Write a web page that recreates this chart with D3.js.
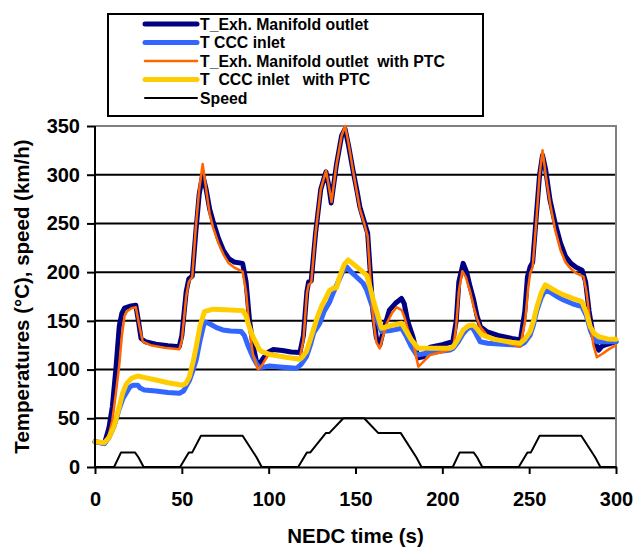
<!DOCTYPE html>
<html>
<head>
<meta charset="utf-8">
<script src="https://cdn.jsdelivr.net/npm/d3@7/dist/d3.min.js"></script>
<style>
  html, body { margin: 0; padding: 0; background: #fff; }
  svg { display: block; }
  text { font-family: "Liberation Sans", Arial, sans-serif; font-weight: bold; fill: #000; }
</style>
</head>
<body>
<svg id="chart" width="636" height="548"></svg>
<script>
// ---- Data: NEDC time (s) and temperatures (°C) / speed (km/h) ----
const exhTime = [0,3,5.5,8,10,12,14,15.5,17,20,23.5,25,26.5,29,35,42,48.5,50,52.5,54,56,58,60,62,64,66,68,71,74,77,80,85,87,89,91,93,95,97,100,102.5,108,113,118,120,122,123,124.5,127,130,133,134.5,136,139,142,144,146,148.5,151,152.5,155,157,158.5,160,162,164,166,169.5,173,176.5,178,180,183,186,189,193,200,206,208,209.5,212,214,216,218,220,222,225.5,232,240,245,247.5,249,250.6,252,254,256,257.7,259.5,262,265,268,271,274,277,280.5,282.5,284.5,287,290,292,295,300];
const exhTemp = [26,25,24.5,40,62,100,145,158,163,165,166,150,132,128.5,126,124.5,123.5,135,180,193,196,240,280,300,285,265,252,235,222,214,210.5,209,190,150,125,108,106.5,112,118,120.5,119.5,118,117.5,135,180,190,191,240,285,303,290,271,310,340,347,330,305,282,267,252,240,200,160,133,125,140,161,168,173,168,150,134,112,113,123,125.5,128.6,150,190,209,200,185,172,155,144,139,135,132,130.4,160,195,205.6,210,255,300,320,305,274,250,230,216,209,205,202,190,160,133,120,124,126,128.6];

const cccTime = [0,3,5.4,8,11,14,16,17.9,20,22,24.6,26,28.4,35,42,48.6,51,54.4,56,58.3,60.5,63,66,70,73.6,78,84.2,86,88,90.9,93,94.8,97,100.6,108,116,118.5,121.7,124,126,129.4,132,135.2,137,140,142.5,144.8,147,150,154.4,156.4,159,162.2,165,170,176.6,179,182,185.2,191,198,204.4,206.3,209,212,214.5,217,219,221.8,226,235,244.8,247.5,250.6,252.5,254.5,257,259.3,263,266,269.8,275,280.4,283,285.2,287,289,295,300];
const cccTemp = [26,25,24,30,42,60,70,75.7,82,84,84,81,79,78,76.5,75.7,78,89,97,110,130,149,147,143,140.7,139.5,139,135,125,113,106,102,102.5,103.7,102.5,101.3,105,113,125,138,147.5,160,169.7,178,190,200,205.6,201,196,188.6,181.7,168,151,139,140,142.4,135,124,115,116.7,118.5,120,121.8,128,137,142,144,138,128.6,127,126,125,128,135.5,146,161,174,181.7,178.5,175,171.5,167.5,164.6,155,140.7,133,128.6,128.5,128.6];

const exhPtcTime = [0,3,5.5,8,10,12,14,15.5,17,18.5,21,23.5,25.5,27.5,32,40,48.5,50,52.5,54,56,58,60,62,64,66,68,71,74,77,80,85,87,89,91,93.8,96,98,100.6,105,112,117.9,120,122,123,124.5,127,130,133,134.5,136.2,139,142,144,146,148.5,151,152.5,155,157,158.5,160,162,164,166,168,171,173.7,176.6,178,180,183.3,186.2,189,193,200,206.3,208,209.5,211.5,213.5,216,218,220,221.8,225.6,232,240,244.8,247.7,249.5,250.6,252,254,256,257.7,259.5,262.2,265,268,271,273.7,277,281.3,283,285,287,289,292,296,300];
const exhPtcTemp = [26,25,24,33,48,75,105,135,155,160,163,164,145,128.6,125,122.5,120.8,130,175,190,195,245,285,311,285,260,246,230,218,209,205,200.5,180,140,115,100.3,104,110,116.7,115,113,111.6,130,178,187,189,240,285,304,290,272,310,340,350,332,305,280,265,250,237,195,155,128,121.8,135,147.5,158,164,161,155,142,127,103,108,115,118,121.8,145,180,201,195,180,164.6,152,144,135.5,130,126,123.5,150,185,199,205,250,300,325,300,269,243,222.8,210,204,199,195.4,180,150,125,112.6,116,121,125];

const cccPtcTime = [0,3,5.4,8,11,14,15.9,18,21,24.6,28,35.2,42,50.5,52.5,54.4,56.5,58.3,60.5,63,67.9,75,85.2,87,89,90.9,94.8,96.7,100.6,110,117.9,119.5,121.7,124,127.5,130.5,133.3,135,137.1,139,141,143.5,145.8,149,153,156.4,158.3,160,162.2,165,170,176.6,179,182,186.2,195,204.4,206.3,209,212,215,217.9,220,222.7,230,240,244.8,247.5,250.6,252.5,254.5,257,259.3,263,266,269.8,275,280.4,283,285.2,287.5,290,295,300];
const cccPtcTemp = [26,25.5,25,30,42,62,75.7,85,91,93.4,92,89.3,86.5,84,86,92.7,108,123.5,145,159.4,162,161.5,160.5,155,143,133.8,120,118,115.5,112.5,110.6,113,118.4,131,151,165,174.8,181,183.5,184,196,208,212.5,208,202,197,185,173,159.4,142.4,145,147.5,140,131,121.8,121.8,121.8,123.5,131,140.7,145,145.8,142,135.5,131,128,127,131,139,150,164.6,179,186.9,183,180,176.6,173,169.7,158,144,137,133.8,131.5,131];

const speedTime = [0,11,15,23,25,28,49,54,56,61,85,93,96,117,122,124,133,135,143,155,163,176,185,188,195,206,210,218,220,223,244,249,251,256,280,288,291,300];
const speedKmh  = [0,0,15,15,10,0,0,15,15,32,32,10,0,0,15,15,35,35,50,50,35,35,10,0,0,0,15,15,10,0,0,15,15,32,32,10,0,0];

const seriesNames = [
  "T_Exh. Manifold outlet",
  "T CCC inlet",
  "T_Exh. Manifold outlet  with PTC",
  "T  CCC inlet   with PTC",
  "Speed"
];
const seriesColors = ["#000080", "#3366FF", "#FF6600", "#FFCC00", "#000000"];
const seriesWidths = [5, 5, 2.5, 5, 2];

const xTicks = [0, 50, 100, 150, 200, 250, 300];
const yTicks = [0, 50, 100, 150, 200, 250, 300, 350];

const xTitle = "NEDC time (s)";
const yTitle = "Temperatures (°C), speed (km/h)";

// ---- Layout ----
const plot = { left: 95, right: 616, top: 126, bottom: 467 };
const svg = d3.select("#chart");

const x = d3.scaleLinear().domain([0, 300]).range([plot.left, plot.right]);
const y = d3.scaleLinear().domain([0, 350]).range([plot.bottom, plot.top]);

// Horizontal gridlines
svg.append("g")
  .selectAll("line")
  .data(yTicks.filter(v => v > 0 && v < 350))
  .join("line")
  .attr("x1", plot.left).attr("x2", plot.right)
  .attr("y1", d => y(d)).attr("y2", d => y(d))
  .attr("stroke", "#000").attr("stroke-width", 2);

// Plot frame (top and right in gray)
svg.append("path")
  .attr("d", `M${plot.left},${y(350)}H${plot.right}V${plot.bottom}`)
  .attr("fill", "none").attr("stroke", "#808080").attr("stroke-width", 2);

// Series
const series = [
  [exhTime, exhTemp],
  [cccTime, cccTemp],
  [exhPtcTime, exhPtcTemp],
  [cccPtcTime, cccPtcTemp],
  [speedTime, speedKmh]
];
const line = d3.line().x(d => x(d[0])).y(d => y(d[1]));
series.forEach(([ts, vs], i) => {
  const pts = ts.map((t, k) => [t, vs[k]]);
  svg.append("path")
    .datum(pts)
    .attr("d", line)
    .attr("fill", "none")
    .attr("stroke", seriesColors[i])
    .attr("stroke-width", seriesWidths[i])
    .attr("stroke-linejoin", "round")
    .attr("stroke-linecap", "round");
});

// Axes
const yAxis = svg.append("g")
  .attr("transform", `translate(${plot.left},0)`)
  .call(d3.axisLeft(y).tickValues(yTicks).tickSize(8).tickSizeOuter(0).tickPadding(7));
const xAxis = svg.append("g")
  .attr("transform", `translate(0,${plot.bottom})`)
  .call(d3.axisBottom(x).tickValues(xTicks).tickSize(7).tickSizeOuter(0).tickPadding(18));
[xAxis, yAxis].forEach(g => {
  g.select(".domain").attr("stroke", "#000").attr("stroke-width", 2);
  g.selectAll(".tick line").attr("stroke", "#000").attr("stroke-width", 2);
  g.selectAll(".tick text").attr("font-size", 20).attr("font-family", null).attr("fill", "#000");
});
yAxis.select(".domain").attr("d", `M0,${y(0)}V${y(350)}`);

// Axis titles
svg.append("text")
  .attr("x", (plot.left + plot.right) / 2).attr("y", 543)
  .attr("text-anchor", "middle").attr("font-size", 20.5)
  .text(xTitle);
svg.append("text")
  .attr("transform", `translate(29,${(plot.top + plot.bottom) / 2}) rotate(-90)`)
  .attr("text-anchor", "middle").attr("font-size", 20.5)
  .text(yTitle);

// Legend
const legend = svg.append("g");
legend.append("rect")
  .attr("x", 108).attr("y", 14).attr("width", 375).attr("height", 102)
  .attr("fill", "#fff").attr("stroke", "#000").attr("stroke-width", 2);
const rowY = [24, 42.5, 61, 79.5, 98];
seriesNames.forEach((name, i) => {
  legend.append("line")
    .attr("x1", 145).attr("x2", 197)
    .attr("y1", rowY[i]).attr("y2", rowY[i])
    .attr("stroke", seriesColors[i])
    .attr("stroke-width", seriesWidths[i])
    .attr("stroke-linecap", "round");
  legend.append("text")
    .attr("x", 200).attr("y", rowY[i])
    .attr("dy", "0.36em")
    .attr("font-size", 15.8)
    .attr("xml:space", "preserve")
    .style("white-space", "pre")
    .text(name);
});
</script>
</body>
</html>
